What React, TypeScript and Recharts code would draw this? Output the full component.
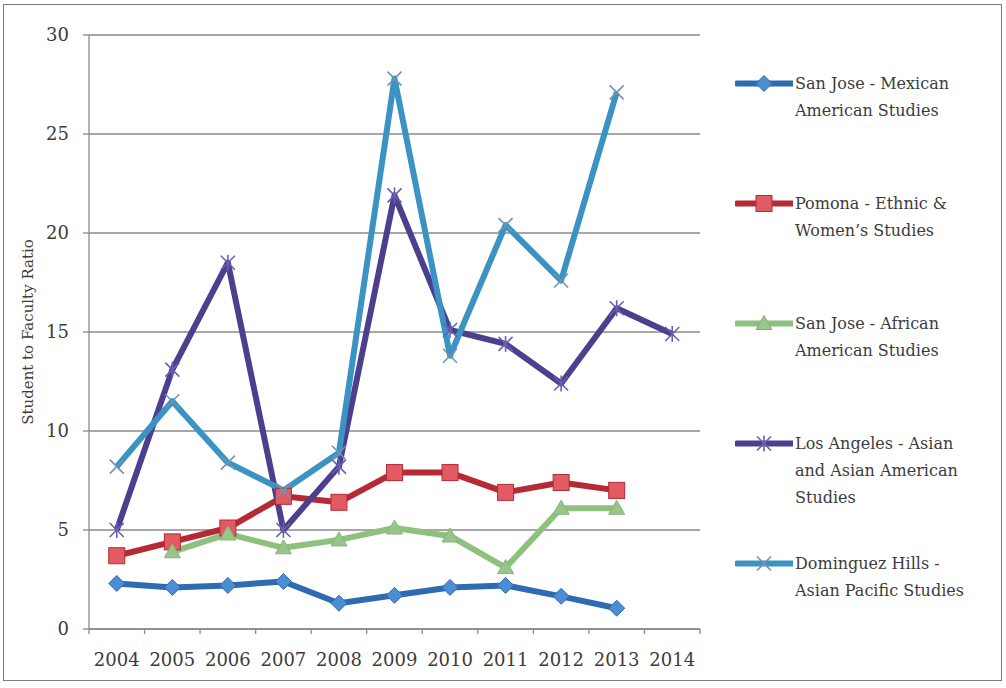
import React from 'react';
import { LineChart, Line, XAxis, YAxis, CartesianGrid, Legend, Label } from 'recharts';

// ---- data ----
const years = ['2004', '2005', '2006', '2007', '2008', '2009', '2010', '2011', '2012', '2013', '2014'];
const sanJoseMexican = [2.3, 2.1, 2.2, 2.4, 1.3, 1.7, 2.1, 2.2, 1.65, 1.05, null];
const pomonaEthnic = [3.7, 4.4, 5.1, 6.7, 6.4, 7.9, 7.9, 6.9, 7.4, 7.0, null];
const sanJoseAfrican = [null, 3.9, 4.8, 4.1, 4.5, 5.1, 4.7, 3.1, 6.1, 6.1, null];
const losAngelesAsian = [5.0, 13.1, 18.5, 5.0, 8.2, 21.9, 15.1, 14.4, 12.4, 16.2, 14.9];
const dominguezHills = [8.2, 11.5, 8.4, 7.0, 8.9, 27.8, 13.8, 20.4, 17.6, 27.1, null];
const yTicks = [0, 5, 10, 15, 20, 25, 30];

const seriesNames = {
  sjMex: 'San Jose - Mexican\nAmerican Studies',
  pomona: 'Pomona - Ethnic &\nWomen\u2019s Studies',
  sjAfr: 'San Jose - African\nAmerican Studies',
  la: 'Los Angeles - Asian\nand Asian American\nStudies',
  dom: 'Dominguez Hills -\nAsian Pacific Studies',
};

const data = years.map((year, i) => ({
  year,
  sjMex: sanJoseMexican[i],
  pomona: pomonaEthnic[i],
  sjAfr: sanJoseAfrican[i],
  la: losAngelesAsian[i],
  dom: dominguezHills[i],
}));

// ---- layout ----
const W = 1006;
const H = 688;
const MARGIN = { top: 35, right: 306, bottom: 14, left: 0 };
const Y_AXIS_W = 89;
const X_AXIS_H = 45;
const PLOT_W = W - MARGIN.left - MARGIN.right - Y_AXIS_W;
const BAND = PLOT_W / years.length;
const FONT = '"DejaVu Serif", "Liberation Serif", serif';
const TEXT = '#3c3c3c';
const AXIS = '#8a8a8a';

const COLORS = {
  sjMex: '#2E6BB0',
  pomona: '#B52A35',
  sjAfr: '#8EC07E',
  la: '#4B3F8E',
  dom: '#3B93C4',
};

const order = ['sjMex', 'pomona', 'sjAfr', 'la', 'dom'];

// ---- markers ----
const Diamond = ({ cx, cy }) => (
  <polygon
    points={`${cx},${cy - 8} ${cx + 8},${cy} ${cx},${cy + 8} ${cx - 8},${cy}`}
    fill="#4C8ED6"
    stroke="#2E6BAE"
    strokeWidth={1}
  />
);
const Square = ({ cx, cy }) => (
  <rect x={cx - 8} y={cy - 8} width={16} height={16} fill="#E35B62" stroke="#B22B36" strokeWidth={1} />
);
const Triangle = ({ cx, cy }) => (
  <polygon
    points={`${cx},${cy - 8} ${cx + 8},${cy + 6} ${cx - 8},${cy + 6}`}
    fill="#98C68A"
    stroke="#83B574"
    strokeWidth={1}
  />
);
const Star = ({ cx, cy }) => (
  <g stroke="#6A5FB0" strokeWidth={1.6}>
    <line x1={cx - 7} y1={cy - 7} x2={cx + 7} y2={cy + 7} />
    <line x1={cx - 7} y1={cy + 7} x2={cx + 7} y2={cy - 7} />
    <line x1={cx} y1={cy - 8} x2={cx} y2={cy + 8} />
  </g>
);
const Cross = ({ cx, cy }) => (
  <g stroke="#6E94B4" strokeWidth={1.6}>
    <line x1={cx - 7} y1={cy - 7} x2={cx + 7} y2={cy + 7} />
    <line x1={cx - 7} y1={cy + 7} x2={cx + 7} y2={cy - 7} />
  </g>
);

const MARKERS = { sjMex: Diamond, pomona: Square, sjAfr: Triangle, la: Star, dom: Cross };

const makeDot = (key) => (props) => {
  const { cx, cy, index } = props;
  const M = MARKERS[key];
  if (cx == null || cy == null || props.value == null) return <g key={`${key}-${index}`} />;
  return (
    <g key={`${key}-${index}`}>
      <M cx={cx} cy={cy} />
    </g>
  );
};

// ---- axis pieces ----
const XTick = (props) => {
  const { x, y, payload, index } = props;
  const last = index === years.length - 1;
  return (
    <g>
      <line x1={x - BAND / 2} y1={y} x2={x - BAND / 2} y2={y + 5} stroke={AXIS} strokeWidth={1.3} />
      {last && <line x1={x + BAND / 2} y1={y} x2={x + BAND / 2} y2={y + 5} stroke={AXIS} strokeWidth={1.3} />}
      <text x={x} y={y + 37} textAnchor="middle" fontFamily={FONT} fontSize={18} fill={TEXT}>
        {payload.value}
      </text>
    </g>
  );
};

const YLabel = (props) => {
  const vb = props.viewBox || { x: 0, y: MARGIN.top, width: Y_AXIS_W, height: 593 };
  const cy = vb.y + vb.height / 2;
  return (
    <text
      transform={`translate(28, ${cy}) rotate(-90)`}
      textAnchor="middle"
      dominantBaseline="central"
      fontFamily={FONT}
      fontSize={15}
      fill={TEXT}
    >
      Student to Faculty Ratio
    </text>
  );
};

const LegendContent = (props) => {
  const payload = [...(props.payload || [])].sort(
    (a, b) => order.indexOf(a.dataKey) - order.indexOf(b.dataKey)
  );
  return (
    <div style={{ fontFamily: FONT }}>
      {payload.map((item) => {
        const key = item.dataKey;
        const M = MARKERS[key];
        return (
          <div key={key} style={{ display: 'flex', alignItems: 'flex-start', height: 120 }}>
            <svg width={58} height={27} style={{ flex: '0 0 auto' }}>
              <line x1={2} y1={13.5} x2={57} y2={13.5} stroke={item.color} strokeWidth={6} strokeLinecap="round" />
              <M cx={29} cy={13.5} />
            </svg>
            <div
              style={{
                whiteSpace: 'pre-line',
                fontSize: 16,
                lineHeight: '27px',
                color: TEXT,
                marginLeft: 2,
              }}
            >
              {item.value}
            </div>
          </div>
        );
      })}
    </div>
  );
};

export default function App() {
  return (
    <div style={{ position: 'absolute', left: 0, top: 0, width: W, height: H, background: '#fff' }}>
      <div
        style={{
          position: 'absolute',
          left: 3,
          top: 4,
          width: 999,
          height: 677,
          border: '1px solid #7a7a7a',
          boxSizing: 'border-box',
        }}
      />
      <LineChart width={W} height={H} data={data} margin={MARGIN}>
        <CartesianGrid vertical={false} stroke={AXIS} strokeWidth={1.3} />
        <XAxis
          dataKey="year"
          height={X_AXIS_H}
          padding={{ left: BAND / 2, right: BAND / 2 }}
          axisLine={{ stroke: AXIS, strokeWidth: 1.3 }}
          tickLine={false}
          tickSize={0}
          tickMargin={0}
          interval={0}
          tick={<XTick />}
        />
        <YAxis
          width={Y_AXIS_W}
          domain={[0, 30]}
          ticks={yTicks}
          interval={0}
          axisLine={{ stroke: AXIS, strokeWidth: 1.3 }}
          tickLine={{ stroke: AXIS, strokeWidth: 1.3 }}
          tickSize={6}
          tickMargin={14}
          tick={{ fontFamily: FONT, fontSize: 18, fill: TEXT }}
        >
          <Label content={<YLabel />} />
        </YAxis>
        <Legend
          layout="vertical"
          verticalAlign="middle"
          align="center"
          itemSorter={(item) => order.indexOf(item.dataKey)}
          content={<LegendContent />}
          wrapperStyle={{ left: 735, top: 70, width: 265, right: 'auto', bottom: 'auto' }}
        />
        {order.map((key) => (
          <Line
            key={key}
            type="linear"
            dataKey={key}
            name={seriesNames[key]}
            stroke={COLORS[key]}
            strokeWidth={6}
            strokeLinejoin="round"
            dot={makeDot(key)}
            activeDot={false}
            isAnimationActive={false}
            connectNulls={false}
          />
        ))}
      </LineChart>
    </div>
  );
}
